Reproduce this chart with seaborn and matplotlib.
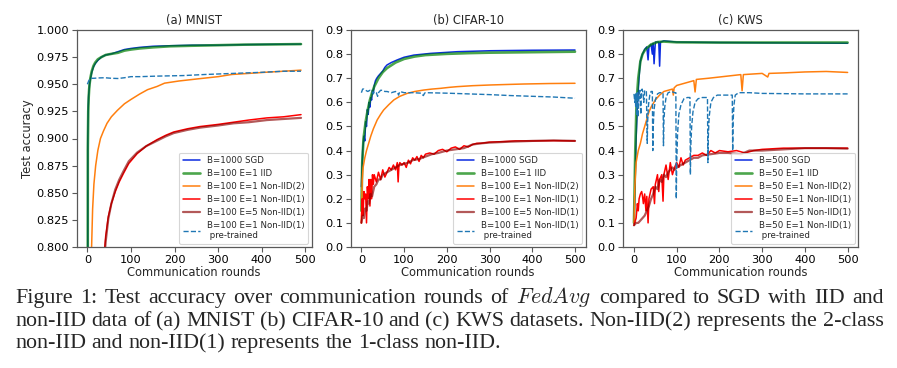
import matplotlib
matplotlib.use("Agg")
import matplotlib.pyplot as plt
import seaborn as sns

# ---------------- data ----------------
# (a) MNIST
mn_sgd_x = [0, 1, 2, 3, 4, 5, 7, 10, 14, 18, 24, 32, 42, 55, 70, 85, 100, 120, 150, 190, 240, 300, 360, 420, 490]
mn_sgd_y = [0.10, 0.90, 0.93, 0.94, 0.945, 0.950, 0.955, 0.961, 0.966, 0.969, 0.972, 0.975, 0.977, 0.978, 0.980,
            0.982, 0.983, 0.984, 0.985, 0.9855, 0.986, 0.986, 0.9865, 0.9868, 0.987]
mn_iid_x = mn_sgd_x
mn_iid_y = [0.10, 0.89, 0.925, 0.938, 0.945, 0.950, 0.956, 0.962, 0.967, 0.970, 0.973, 0.975, 0.977, 0.978, 0.979,
            0.981, 0.982, 0.983, 0.984, 0.985, 0.9855, 0.986, 0.9865, 0.9867, 0.987]
mn_n2_x = [0, 5, 9, 12, 15, 19, 24, 30, 37, 45, 55, 69, 85, 100, 120, 138, 160, 177, 210, 254, 300, 331, 370, 407, 450, 490]
mn_n2_y = [0.10, 0.60, 0.79, 0.835, 0.858, 0.875, 0.889, 0.900, 0.907, 0.914, 0.920, 0.926, 0.932, 0.936, 0.941,
           0.945, 0.948, 0.951, 0.953, 0.955, 0.957, 0.959, 0.960, 0.961, 0.962, 0.963]
mn_n1_x = [0, 10, 20, 30, 38, 42, 48, 55, 64, 73, 83, 95, 114, 135, 160, 180, 198, 230, 258, 300, 335, 370, 412, 450, 490]
mn_n1_y = [0.10, 0.30, 0.55, 0.72, 0.79, 0.81, 0.828, 0.84, 0.851, 0.860, 0.868, 0.877, 0.886, 0.893, 0.899, 0.903,
           0.906, 0.909, 0.911, 0.913, 0.915, 0.917, 0.919, 0.920, 0.922]
mn_n1e5_x = mn_n1_x
mn_n1e5_y = [0.10, 0.28, 0.53, 0.71, 0.785, 0.805, 0.826, 0.84, 0.853, 0.862, 0.870, 0.879, 0.887, 0.893, 0.898,
             0.902, 0.905, 0.908, 0.910, 0.912, 0.914, 0.915, 0.917, 0.918, 0.919]
mn_pre_x = [0, 3, 6, 9, 15, 25, 40, 55, 70, 85, 100, 121, 160, 220, 270, 335, 400, 450, 490]
mn_pre_y = [0.950, 0.953, 0.955, 0.9555, 0.9555, 0.9558, 0.956, 0.9555, 0.9553, 0.956, 0.957, 0.957, 0.9575,
            0.958, 0.959, 0.960, 0.961, 0.962, 0.962]

# (b) CIFAR-10
cf_sgd_x = [0, 3, 6, 8, 10, 12, 14, 16, 18, 20, 22, 24, 26, 28, 30, 33, 36, 40, 45, 50, 55, 60, 70, 84, 100, 123,
            162, 224, 302, 400, 500]
cf_sgd_y = [0.25, 0.40, 0.46, 0.44, 0.52, 0.50, 0.57, 0.55, 0.60, 0.58, 0.62, 0.61, 0.65, 0.64, 0.67, 0.69, 0.70,
            0.71, 0.72, 0.73, 0.745, 0.755, 0.765, 0.776, 0.787, 0.796, 0.803, 0.810, 0.814, 0.816, 0.817]
cf_iid_x = [0, 2, 5, 10, 15, 20, 25, 30, 40, 50, 60, 80, 100, 125, 150, 200, 250, 300, 400, 500]
cf_iid_y = [0.15, 0.35, 0.45, 0.52, 0.57, 0.61, 0.64, 0.665, 0.70, 0.725, 0.742, 0.765, 0.78, 0.79, 0.796, 0.801,
            0.804, 0.806, 0.808, 0.81]
cf_n2_x = [0, 2, 4, 8, 12, 17, 22, 28, 37, 45, 52, 64, 76, 90, 107, 125, 146, 165, 185, 205, 224, 260, 302, 340,
           380, 440, 500]
cf_n2_y = [0.10, 0.28, 0.33, 0.37, 0.40, 0.43, 0.46, 0.49, 0.527, 0.55, 0.568, 0.59, 0.61, 0.625, 0.637, 0.645,
           0.651, 0.655, 0.658, 0.662, 0.665, 0.669, 0.672, 0.674, 0.676, 0.678, 0.679]
cf_n1_x = [0, 2, 4, 6, 8, 10, 12, 14, 16, 18, 20, 22, 24, 26, 28, 30, 35, 40, 45, 50, 55, 60, 65, 70, 75, 80, 84,
           86, 88, 90, 95, 100, 105, 110, 115, 120, 125, 130, 135, 140, 145, 150, 160, 170, 180, 190, 200, 210,
           220, 230, 240, 250, 260, 270, 280, 300, 330, 360, 400, 450, 500]
cf_n1_y = [0.10, 0.20, 0.13, 0.23, 0.20, 0.22, 0.10, 0.25, 0.20, 0.28, 0.17, 0.28, 0.20, 0.30, 0.26, 0.30, 0.27,
           0.31, 0.28, 0.32, 0.29, 0.31, 0.33, 0.32, 0.34, 0.32, 0.35, 0.27, 0.34, 0.35, 0.34, 0.35, 0.33, 0.36,
           0.345, 0.37, 0.36, 0.375, 0.355, 0.38, 0.37, 0.385, 0.39, 0.385, 0.40, 0.405, 0.395, 0.41, 0.415, 0.405,
           0.42, 0.415, 0.425, 0.43, 0.43, 0.435, 0.437, 0.44, 0.44, 0.441, 0.44]
cf_n1e5_x = [0, 3, 6, 9, 12, 15, 18, 21, 25, 30, 35, 40, 45, 50, 60, 70, 80, 90, 100, 110, 120, 135, 150, 165, 180,
             200, 220, 240, 260, 280, 300, 350, 400, 450, 500]
cf_n1e5_y = [0.10, 0.13, 0.12, 0.16, 0.15, 0.19, 0.18, 0.22, 0.21, 0.25, 0.26, 0.28, 0.28, 0.30, 0.31, 0.32, 0.33,
             0.34, 0.345, 0.35, 0.36, 0.365, 0.375, 0.385, 0.39, 0.40, 0.405, 0.41, 0.425, 0.43, 0.433, 0.437,
             0.44, 0.442, 0.44]
cf_pre_x = [0, 3, 6, 10, 15, 20, 25, 28, 30, 35, 38, 40, 45, 50, 55, 60, 70, 80, 85, 87, 90, 100, 120, 140, 145,
            148, 150, 200, 250, 300, 350, 400, 450, 500]
cf_pre_y = [0.64, 0.655, 0.655, 0.65, 0.645, 0.65, 0.645, 0.635, 0.645, 0.64, 0.625, 0.64, 0.65, 0.65, 0.645,
            0.645, 0.64, 0.645, 0.64, 0.63, 0.645, 0.64, 0.64, 0.638, 0.628, 0.638, 0.64, 0.638, 0.635, 0.632,
            0.628, 0.625, 0.622, 0.617]

# (c) KWS
kw_sgd_x = [0, 3, 5, 8, 10, 13, 15, 18, 20, 25, 30, 33, 35, 40, 43, 45, 47, 50, 55, 58, 60, 62, 70, 100, 200, 300,
            400, 500]
kw_sgd_y = [0.10, 0.30, 0.45, 0.58, 0.65, 0.73, 0.77, 0.79, 0.80, 0.82, 0.83, 0.776, 0.83, 0.84, 0.80, 0.845, 0.76,
            0.85, 0.85, 0.85, 0.75, 0.85, 0.855, 0.85, 0.848, 0.847, 0.846, 0.845]
kw_iid_x = [0, 3, 6, 10, 15, 20, 25, 30, 40, 55, 70, 100, 200, 300, 400, 500]
kw_iid_y = [0.10, 0.40, 0.60, 0.70, 0.77, 0.80, 0.815, 0.825, 0.84, 0.85, 0.852, 0.849, 0.848, 0.848, 0.848, 0.848]
kw_n2_x = [0, 2, 5, 10, 15, 20, 25, 30, 35, 40, 50, 60, 70, 80, 90, 92, 94, 100, 120, 140, 143, 146, 175, 200, 250,
           253, 256, 300, 313, 316, 350, 400, 450, 500]
kw_n2_y = [0.10, 0.25, 0.35, 0.40, 0.43, 0.47, 0.50, 0.53, 0.56, 0.58, 0.61, 0.63, 0.645, 0.65, 0.655, 0.63, 0.66,
           0.67, 0.68, 0.69, 0.643, 0.695, 0.70, 0.705, 0.715, 0.648, 0.715, 0.72, 0.705, 0.72, 0.722, 0.726, 0.728,
           0.724]
kw_n1_x = [0, 5, 8, 10, 12, 15, 18, 20, 22, 25, 28, 30, 33, 35, 40, 45, 48, 50, 55, 58, 60, 65, 68, 70, 75, 80, 85,
           90, 95, 100, 105, 110, 115, 120, 130, 140, 150, 160, 170, 180, 190, 200, 220, 240, 260, 280, 300, 350,
           400, 450, 500]
kw_n1_y = [0.09, 0.12, 0.18, 0.15, 0.20, 0.22, 0.23, 0.21, 0.18, 0.22, 0.15, 0.21, 0.10, 0.20, 0.24, 0.25, 0.18,
           0.26, 0.30, 0.23, 0.28, 0.30, 0.19, 0.30, 0.34, 0.28, 0.35, 0.30, 0.33, 0.35, 0.33, 0.37, 0.34, 0.36,
           0.37, 0.38, 0.38, 0.39, 0.38, 0.40, 0.39, 0.40, 0.395, 0.40, 0.39, 0.40, 0.405, 0.41, 0.41, 0.41, 0.41]
kw_n1e5_x = [0, 5, 10, 15, 20, 25, 30, 35, 40, 45, 50, 55, 60, 65, 70, 75, 80, 85, 90, 95, 100, 110, 120, 130, 140,
             150, 160, 180, 200, 220, 250, 270, 300, 350, 400, 450, 500]
kw_n1e5_y = [0.09, 0.10, 0.10, 0.11, 0.12, 0.13, 0.15, 0.17, 0.20, 0.22, 0.25, 0.24, 0.28, 0.27, 0.30, 0.29, 0.31,
             0.32, 0.33, 0.32, 0.33, 0.34, 0.35, 0.36, 0.37, 0.37, 0.38, 0.385, 0.39, 0.39, 0.385, 0.40, 0.40,
             0.405, 0.41, 0.41, 0.408]
kw_pre_x = [0, 2, 3, 4, 5, 6, 7, 8, 10, 11, 12, 14, 16, 17, 19, 21, 23, 25, 27, 29, 31, 32, 34, 37, 40, 43, 44, 45,
            47, 50, 55, 60, 65, 68, 69, 70, 72, 75, 80, 88, 95, 98, 99, 100, 102, 105, 110, 117, 125, 131, 132,
            133, 135, 138, 143, 150, 160, 172, 173, 174, 176, 180, 186, 195, 210, 230, 231, 232, 234, 237, 245,
            270, 300, 400, 500]
kw_pre_y = [0.635, 0.60, 0.63, 0.58, 0.64, 0.55, 0.62, 0.64, 0.54, 0.60, 0.63, 0.65, 0.55, 0.62, 0.655, 0.64, 0.60,
            0.65, 0.65, 0.645, 0.43, 0.52, 0.59, 0.63, 0.645, 0.645, 0.40, 0.50, 0.57, 0.61, 0.635, 0.64, 0.64,
            0.64, 0.42, 0.52, 0.58, 0.62, 0.64, 0.645, 0.64, 0.64, 0.20, 0.35, 0.47, 0.55, 0.59, 0.615, 0.62, 0.62,
            0.30, 0.42, 0.50, 0.56, 0.60, 0.615, 0.62, 0.62, 0.35, 0.46, 0.54, 0.60, 0.62, 0.63, 0.63, 0.63, 0.40,
            0.52, 0.59, 0.63, 0.64, 0.64, 0.637, 0.635, 0.635]

titles = ["(a) MNIST", "(b) CIFAR-10", "(c) KWS"]
labels_a = ["B=1000 SGD", "B=100 E=1 IID", "B=100 E=1 Non-IID(2)", "B=100 E=1 Non-IID(1)",
            "B=100 E=5 Non-IID(1)", "B=100 E=1 Non-IID(1)\n pre-trained"]
labels_c = ["B=500 SGD", "B=50 E=1 IID", "B=50 E=1 Non-IID(2)", "B=50 E=1 Non-IID(1)",
            "B=50 E=5 Non-IID(1)", "B=50 E=1 Non-IID(1)\n pre-trained"]
ylims = [(0.8, 1.0), (0.0, 0.9), (0.0, 0.9)]
xlims = [(-24.5, 514.5), (-25, 525), (-25, 525)]

caption = [
    r"Figure 1: Test accuracy over communication rounds of $FedAvg$ compared to SGD with IID and",
    "non-IID data of (a) MNIST (b) CIFAR-10 and (c) KWS datasets. Non-IID(2) represents the 2-class",
    "non-IID and non-IID(1) represents the 1-class non-IID.",
]

# ---------------- style ----------------
sns.set_theme(style="ticks")
plt.rcParams["font.family"] = ["DejaVu Sans"]
plt.rcParams["mathtext.fontset"] = "cm"
plt.rcParams["axes.edgecolor"] = "0.35"
plt.rcParams["xtick.color"] = "0.35"
plt.rcParams["ytick.color"] = "0.35"
plt.rcParams["xtick.labelcolor"] = "black"
plt.rcParams["ytick.labelcolor"] = "black"

styles = [
    dict(color="#0b2be0", lw=1.1, ls="-", alpha=1.0),
    dict(color="green", lw=1.9, ls="-", alpha=0.7),
    dict(color="#ff7f0e", lw=1.1, ls="-", alpha=1.0),
    dict(color="red", lw=1.1, ls="-", alpha=1.0),
    dict(color="darkred", lw=1.6, ls="-", alpha=0.65),
    dict(color="#1f77b4", lw=1.0, ls="--", alpha=1.0),
]

panels = [
    [(mn_sgd_x, mn_sgd_y), (mn_iid_x, mn_iid_y), (mn_n2_x, mn_n2_y), (mn_n1_x, mn_n1_y),
     (mn_n1e5_x, mn_n1e5_y), (mn_pre_x, mn_pre_y)],
    [(cf_sgd_x, cf_sgd_y), (cf_iid_x, cf_iid_y), (cf_n2_x, cf_n2_y), (cf_n1_x, cf_n1_y),
     (cf_n1e5_x, cf_n1e5_y), (cf_pre_x, cf_pre_y)],
    [(kw_sgd_x, kw_sgd_y), (kw_iid_x, kw_iid_y), (kw_n2_x, kw_n2_y), (kw_n1_x, kw_n1_y),
     (kw_n1e5_x, kw_n1e5_y), (kw_pre_x, kw_pre_y)],
]
panel_labels = [labels_a, labels_a, labels_c]

W, H = 897, 368
fig = plt.figure(figsize=(W / 100, H / 100), dpi=100)
lefts = [76.7 / W, 350.7 / W, 623.3 / W]
w = 235 / W
b = 1 - 247 / H
h = 217 / H

for i in range(3):
    ax = fig.add_axes([lefts[i], b, w, h])
    for (xs, ys), st, lab in zip(panels[i], styles, panel_labels[i]):
        sns.lineplot(x=xs, y=ys, ax=ax, color=st["color"], lw=st["lw"], linestyle=st["ls"],
                     alpha=st["alpha"], label=lab, estimator=None, sort=False)
    ax.set_xlim(*xlims[i])
    ax.set_ylim(*ylims[i])
    ax.set_xticks([0, 100, 200, 300, 400, 500])
    if i == 0:
        ax.set_yticks([0.8, 0.825, 0.85, 0.875, 0.9, 0.925, 0.95, 0.975, 1.0])
        ax.set_yticklabels([f"{v:.3f}" for v in [0.8, 0.825, 0.85, 0.875, 0.9, 0.925, 0.95, 0.975, 1.0]])
        ax.set_ylabel("Test accuracy", fontsize=8.3, labelpad=2)
    else:
        ax.set_yticks([0.0, 0.1, 0.2, 0.3, 0.4, 0.5, 0.6, 0.7, 0.8, 0.9])
        ax.set_yticklabels([f"{v:.1f}" for v in [0.0, 0.1, 0.2, 0.3, 0.4, 0.5, 0.6, 0.7, 0.8, 0.9]])
        ax.set_ylabel("")
    ax.set_xlabel("Communication rounds", fontsize=8.3, labelpad=1)
    ax.set_title(titles[i], fontsize=8.3, pad=4)
    ax.tick_params(labelsize=8.2, length=3.5, width=0.8, pad=2)
    for s in ax.spines.values():
        s.set_visible(True)
        s.set_linewidth(0.9)
    leg = ax.legend(loc="lower right", fontsize=6.25, frameon=True, fancybox=True,
                    borderaxespad=0.4, labelspacing=0.45)
    leg.get_frame().set_edgecolor("0.8")
    leg.get_frame().set_linewidth(0.8)

# ---------------- caption (justified like the paper) ----------------
renderer = fig.canvas.get_renderer()
cap_size = 15.8
x0, x1 = 15.0, 884.0
baselines = [303, 326, 348]
for li, (line, ypx) in enumerate(zip(caption, baselines)):
    words = line.split(" ")
    texts = [fig.text(0, 1 - ypx / H, wd, fontsize=cap_size, family="Liberation Serif",
                      va="baseline", ha="left") for wd in words]
    widths = [t.get_window_extent(renderer).width for t in texts]
    space = cap_size * 0.25 * 100 / 72
    if li < len(caption) - 1:
        gap = max((x1 - x0 - sum(widths)) / (len(words) - 1), 2.0)
    else:
        gap = space
    x = x0
    for t, wd in zip(texts, widths):
        t.set_x(x / W)
        x += wd + gap

fig.savefig("out.png", dpi=100)
